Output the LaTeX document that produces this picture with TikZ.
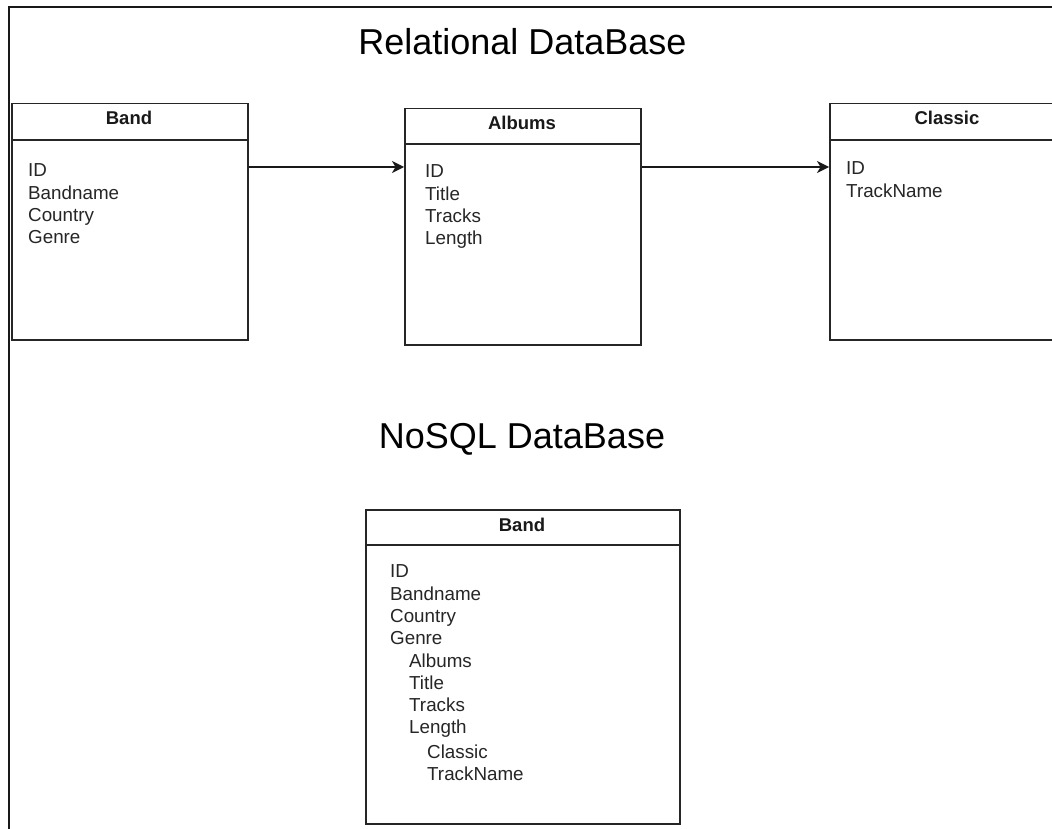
\documentclass[tikz,border=0pt]{standalone}
\usepackage{fontspec}
\setmainfont{Liberation Sans}
\usetikzlibrary{arrows.meta}
\tikzset{
  frameline/.style={line width=1.6pt, draw=black!90},
  tablebox/.style={draw=black!85, line width=1.5pt, fill=white, rectangle, inner sep=0pt, anchor=north west},
  headline/.style={draw=black!85, line width=1.5pt},
  headtext/.style={font=\fontsize{18.5}{22}\selectfont\bfseries, text=black!90, inner sep=0pt, anchor=base},
  fieldtext/.style={font=\fontsize{18.8}{22}\selectfont, text=black!85, inner sep=0pt, anchor=base west},
  bigtitle/.style={font=\fontsize{36}{40}\selectfont, text=black, inner sep=0pt, anchor=base},
  linkarrow/.style={draw=black!90, line width=1.4pt, -{Stealth[length=12pt,width=12pt,inset=3.5pt]}}
}
\begin{document}
\begin{tikzpicture}[x=1pt,y=-1pt]
\useasboundingbox (0,0) rectangle (1052,829);
\fill[white] (0,0) rectangle (1052,829);
% outer frame
\draw[frameline] (9,840) -- (9,7) -- (1060,7);

% titles
\node[bigtitle] (reltitle) at (522.5,55) {Relational DataBase};
\node[bigtitle] (nosqltitle) at (522,448) {NoSQL DataBase};

% Band table
\node[tablebox, minimum width=236pt, minimum height=236pt] (band) at (11,103) {};
\draw[headline] ([yshift=-37pt]band.north west) -- ([yshift=-37pt]band.north east);
\node[headtext] (bandhead) at (129,125) {Band};
\foreach \t [count=\i] in {ID,Bandname,Country,Genre}
  \node[fieldtext] (bandf\i) at (28,{177+22.2*(\i-1)}) {\t};

% Albums table
\node[tablebox, minimum width=236pt, minimum height=236pt] (albums) at (404,108) {};
\draw[headline] ([yshift=-36pt]albums.north west) -- ([yshift=-36pt]albums.north east);
\node[headtext] (albumshead) at (522,130) {Albums};
\foreach \t [count=\i] in {ID,Title,Tracks,Length}
  \node[fieldtext] (albumsf\i) at (425,{178+22.2*(\i-1)}) {\t};

% Classic table
\node[tablebox, minimum width=236pt, minimum height=236pt] (classic) at (829,103) {};
\draw[headline] ([yshift=-37pt]classic.north west) -- ([yshift=-37pt]classic.north east);
\node[headtext] (classichead) at (947,125) {Classic};
\foreach \t [count=\i] in {ID,TrackName}
  \node[fieldtext] (classicf\i) at (846,{175+22.2*(\i-1)}) {\t};

% arrows
\coordinate (arrowy) at (0,167);
\draw[linkarrow] (band.east |- arrowy) -- (albums.west |- arrowy);
\draw[linkarrow] (albums.east |- arrowy) -- (classic.west |- arrowy);

% NoSQL Band document
\node[tablebox, minimum width=314pt, minimum height=314pt] (nband) at (365,509) {};
\draw[headline] ([yshift=-36pt]nband.north west) -- ([yshift=-36pt]nband.north east);
\node[headtext] (nbandhead) at (522,531) {Band};
\node[fieldtext] (n1) at (390,577) {ID};
\node[fieldtext] (n2) at (390,600) {Bandname};
\node[fieldtext] (n3) at (390,622) {Country};
\node[fieldtext] (n4) at (390,644) {Genre};
\node[fieldtext] (n5) at (409,667) {Albums};
\node[fieldtext] (n6) at (409,689) {Title};
\node[fieldtext] (n7) at (409,711) {Tracks};
\node[fieldtext] (n8) at (409,733) {Length};
\node[fieldtext] (n9) at (427,758) {Classic};
\node[fieldtext] (n10) at (427,780) {TrackName};
\end{tikzpicture}
\end{document}
